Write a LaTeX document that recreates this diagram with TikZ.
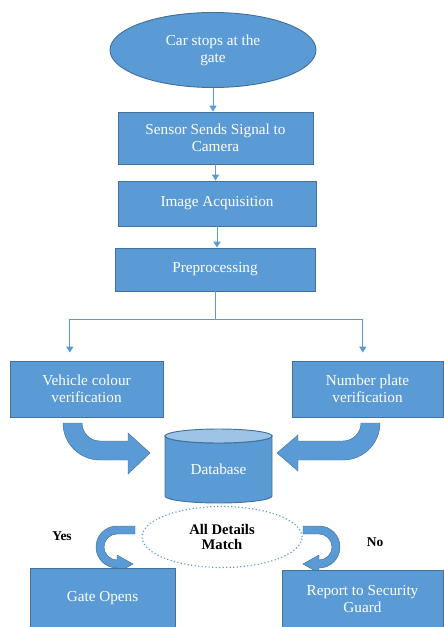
\documentclass[tikz,border=0pt]{standalone}
\usepackage{fontspec}
\setmainfont{Liberation Serif}
\usetikzlibrary{shapes.geometric,arrows.meta}
\definecolor{boxblue}{HTML}{5B9BD5}
\definecolor{edgeblue}{HTML}{41719C}
\definecolor{capblue}{HTML}{9DC3E6}
\tikzset{
  stepbox/.style={draw=edgeblue, line width=0.8pt, fill=boxblue, text=white,
    align=center, font=\fontsize{13}{14.5}\selectfont, inner sep=2pt},
  link/.style={draw=boxblue, line width=0.8pt, -{Triangle[length=5pt,width=6pt]}},
  bigarrow/.style={fill=boxblue, draw=edgeblue, line width=0.4pt},
  answer/.style={font=\bfseries\fontsize{11.5}{13}\selectfont}
}
\begin{document}
\begin{tikzpicture}[x=0.03cm,y=-0.03cm]
  \useasboundingbox (0,0) rectangle (443,627);

  % Start und Ablauf
  \node[stepbox, ellipse, minimum width=6.18cm, minimum height=2.25cm] (start) at (213,50) {Car stops at the\\gate};
  \node[stepbox, minimum width=5.85cm, minimum height=1.56cm] (sensor) at (215.5,138) {Sensor Sends Signal to\\Camera};
  \node[stepbox, minimum width=5.94cm, minimum height=1.35cm] (image) at (217,203.5) {Image Acquisition};
  \node[stepbox, minimum width=6.0cm, minimum height=1.29cm] (prep) at (215,269.5) {Preprocessing};

  \draw[link] (start.south) -- (start.south |- sensor.north);
  \draw[link] (sensor.south) -- (sensor.south |- image.north);
  \draw[link] (image.south) -- (image.south |- prep.north);

  % Verzweigung
  \node[stepbox, minimum width=4.59cm, minimum height=1.68cm] (colour) at (86.5,389) {Vehicle colour\\verification};
  \node[stepbox, minimum width=4.53cm, minimum height=1.68cm] (plate) at (367.5,389) {Number plate\\verification};

  \draw[draw=boxblue, line width=0.8pt] (prep.south) -- ++(0,28) coordinate (split);
  \draw[link, shorten >=0.24cm] (split) -| ([xshift=-0.5cm]colour.north);
  \draw[link, shorten >=0.24cm] (split) -| ([xshift=-0.14cm]plate.north);

  % Datenbank
  \draw[fill=boxblue, draw=edgeblue, line width=0.8pt] (165,436) -- (165,496)
    arc[start angle=180, end angle=0, x radius=53.5, y radius=7] -- (272,436)
    arc[start angle=0, end angle=180, x radius=53.5, y radius=7] -- cycle;
  \draw[fill=capblue, draw=edgeblue, line width=0.8pt] (218.5,436) ellipse[x radius=53.5, y radius=7];
  \node[text=white, font=\fontsize{13}{14.5}\selectfont] (db) at (218.5,469) {Database};

  % Blockpfeile zur Datenbank
  \draw[bigarrow] (63,423) arc[start angle=180, end angle=90, radius=37] -- (128,460) -- (128,474)
    -- (150,453) -- (128,433) -- (128,441) -- (100,441) arc[start angle=90, end angle=180, radius=18] -- cycle;
  \draw[bigarrow] (380,423) arc[start angle=0, end angle=90, radius=37] -- (298,460) -- (298,471)
    -- (277,453) -- (298,435) -- (298,441) -- (343,441) arc[start angle=90, end angle=0, radius=18] -- cycle;

  % Entscheidung
  \node[ellipse, draw=boxblue, dotted, line width=1pt, minimum width=4.8cm, minimum height=1.83cm,
    align=center, font=\bfseries\fontsize{12.5}{13.5}\selectfont] (match) at (222,537) {All Details\\Match};
  \node[answer] (yes) at (62,536) {Yes};
  \node[answer] (no) at (375,542) {No};

  \draw[bigarrow] (135,526) -- (117,526) arc[start angle=270, end angle=90, radius=21] -- (117,573)
    -- (133,564) -- (117,555) -- (117,560) arc[start angle=90, end angle=270, radius=13] -- (135,534) -- cycle;
  \draw[bigarrow] (303,526) -- (319,526) arc[start angle=270, end angle=450, radius=21] -- (319,573)
    -- (303,564) -- (319,555) -- (319,560) arc[start angle=90, end angle=-90, radius=13] -- (303,534) -- cycle;

  % Ergebnisse
  \node[stepbox, minimum width=4.35cm, minimum height=1.8cm] (gate) at (102.5,598) {Gate Opens};
  \node[stepbox, minimum width=4.83cm, minimum height=1.74cm] (guard) at (362.5,599) {Report to Security\\Guard};
\end{tikzpicture}
\end{document}
